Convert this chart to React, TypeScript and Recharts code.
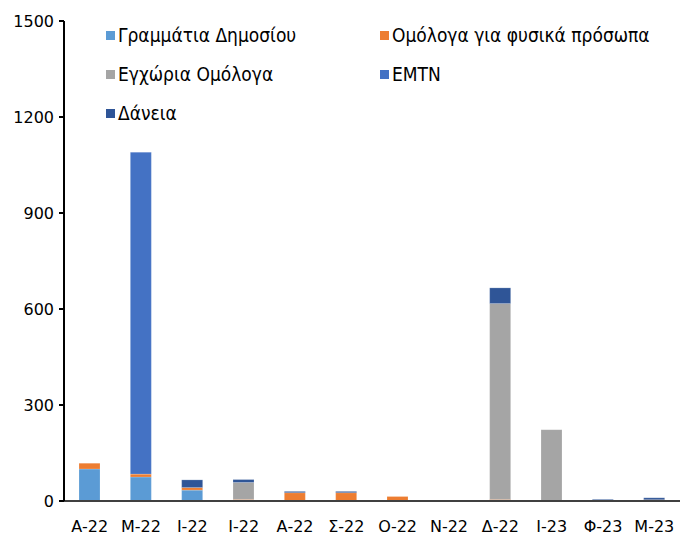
import React from "react";
import { BarChart, Bar, XAxis, YAxis } from "recharts";

const categories = ["Α-22", "Μ-22", "Ι-22", "Ι-22", "Α-22", "Σ-22", "Ο-22", "Ν-22", "Δ-22", "Ι-23", "Φ-23", "Μ-23"];
const grammatia = [100, 75, 34, 0, 0, 0, 0, 0, 0, 0, 0, 0];
const omologaFysika = [18, 9, 8, 5, 26, 26, 14, 0, 5, 0, 0, 4];
const egxoria = [0, 0, 0, 53, 0, 0, 0, 0, 612, 223, 0, 0];
const emtn = [0, 1006, 0, 0, 0, 0, 0, 0, 0, 0, 0, 0];
const daneia = [0, 0, 24, 9, 4, 4, 0, 0, 49, 0, 5, 6];
const yTicks = [0, 300, 600, 900, 1200, 1500];

const series = [
  { key: "g", name: "Γραμμάτια Δημοσίου", color: "#5B9BD5", values: grammatia },
  { key: "o", name: "Ομόλογα για φυσικά πρόσωπα", color: "#ED7D31", values: omologaFysika },
  { key: "e", name: "Εγχώρια Ομόλογα", color: "#A5A5A5", values: egxoria },
  { key: "m", name: "EMTN", color: "#4472C4", values: emtn },
  { key: "d", name: "Δάνεια", color: "#2F5597", values: daneia },
];

const data = categories.map((c, i) => {
  const row: any = { cat: c };
  series.forEach((s) => (row[s.key] = s.values[i]));
  return row;
});

const LegendBox = () => (
  <div
    style={{
      position: "absolute",
      left: 106,
      top: 24,
      display: "grid",
      gridTemplateColumns: "274px 300px",
      rowGap: "17px",
      fontFamily: "'Liberation Sans Narrow', 'DejaVu Sans Condensed', sans-serif",
      fontSize: "19px",
      color: "#000",
    }}
  >
    {series.map((s) => (
      <div key={s.key} style={{ display: "flex", alignItems: "center", height: "22px", whiteSpace: "nowrap" }}>
        <span style={{ width: 9, height: 9, background: s.color, display: "inline-block", marginRight: 3 }} />
        <span>{s.name}</span>
      </div>
    ))}
  </div>
);

export default function App() {
  return (
    <div style={{ position: "absolute", left: 0, top: 0, width: 680, height: 541, background: "#fff" }}>
      <BarChart width={680} height={541} data={data} margin={{ top: 21, right: 0, left: 0, bottom: 0 }} barSize={21}>
        <XAxis
          dataKey="cat"
          height={40}
          tickLine={false}
          axisLine={{ stroke: "#404040", strokeWidth: 2 }}
          tick={{ fill: "#000", fontSize: 16, fontFamily: "DejaVu Sans" }}
          tickMargin={14}
          interval={0}
        />
        <YAxis
          width={64}
          domain={[0, 1500]}
          ticks={yTicks}
          axisLine={{ stroke: "#000", strokeWidth: 2 }}
          tickLine={{ stroke: "#000", strokeWidth: 2 }}
          tickSize={5}
          tick={{ fill: "#000", fontSize: 16, fontFamily: "DejaVu Sans" }}
          tickMargin={5}
          interval={0}
        />
        {series.map((s) => (
          <Bar
            key={s.key}
            dataKey={s.key}
            name={s.name}
            stackId="a"
            fill={s.color}
            stroke="#ffffff"
            strokeOpacity={0.3}
            strokeWidth={0.6}
            isAnimationActive={false}
          />
        ))}
      </BarChart>
      <LegendBox />
    </div>
  );
}
